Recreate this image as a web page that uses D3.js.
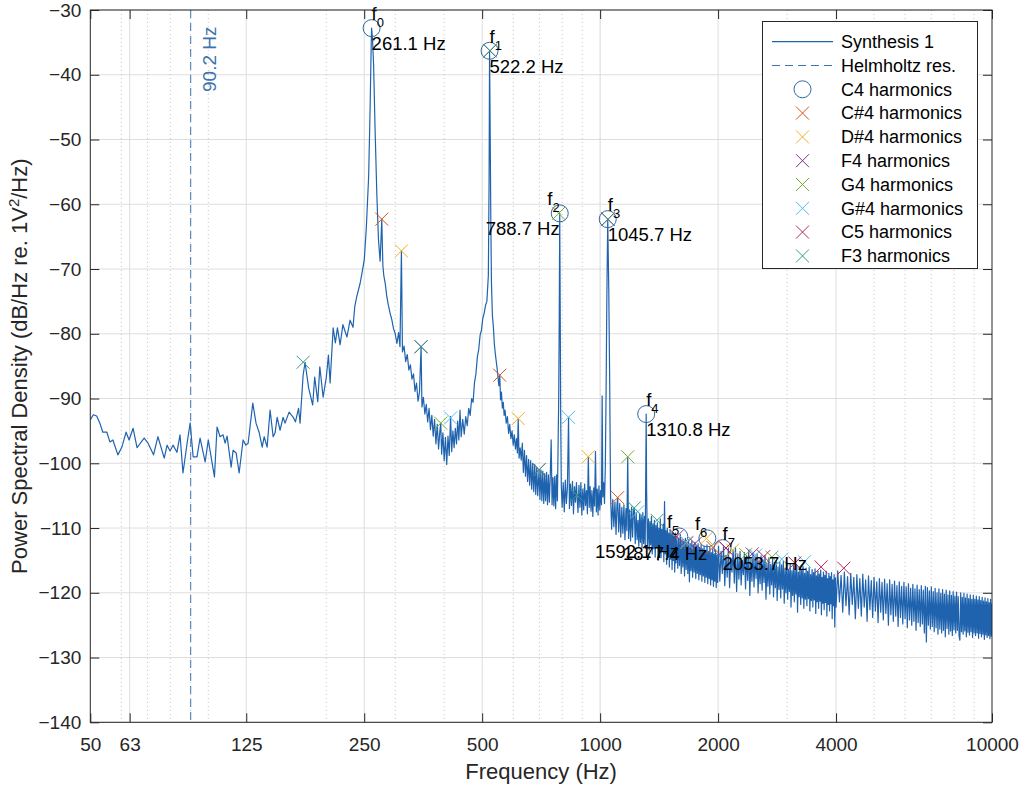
<!DOCTYPE html>
<html>
<head>
<meta charset="utf-8">
<script src="https://cdn.jsdelivr.net/npm/d3@7"></script>
<style>
  body { margin: 0; background: #fff; }
  text { font-family: "Liberation Sans", Arial, Helvetica, sans-serif; fill: #262626; }
</style>
</head>
<body>
<svg id="chart" width="1024" height="787"></svg>
<script>
// ---- data ----
// measured PSD, [frequency Hz, dB/Hz]
const spectrum = [
  [50,-93.3],[50.9,-92.5],[51.9,-92.7],[52.9,-93.8],[53.8,-95.2],[55.1,-95.2],[56.1,-96.7],[57.1,-96.4],[58.8,-98.7],[60.2,-97.5],
  [61.7,-95.2],[62.8,-96.4],[64.3,-94.6],[65.8,-97.6],[68.6,-96.1],[70.2,-96.9],[72.5,-98.7],[74.4,-95.9],[77.2,-99.2],[78.5,-97.2],
  [79.9,-98.1],[81.3,-97.2],[83.2,-98.3],[84.7,-95.6],[86.2,-101.5],[88.3,-96.9],[89.9,-93.8],[91.5,-99.0],[93.6,-99.0],[95.3,-96.1],
  [98.2,-99.8],[100,-96.4],[103.7,-102.1],[105.3,-94.4],[107.2,-95.9],[109.1,-95.6],[110.4,-96.9],[111.7,-95.8],[114.4,-100.6],[115.7,-98.0],
  [117.8,-98.4],[119.9,-101.5],[122.7,-96.4],[124.7,-97.2],[126.4,-96.9],[129.9,-90.7],[132.4,-93.8],[134.8,-95.2],[137.3,-97.5],[138.9,-95.9],
  [141.3,-97.5],[143.8,-91.8],[146.4,-95.9],[148.1,-95.3],[149.9,-92.9],[152.5,-94.9],[155.2,-92.9],[157,-93.8],[160.8,-92.1],[164.8,-92.9],
  [166.9,-93.6],[170,-91.5],[171.5,-93.8],[174.6,-86.4],[176.6,-84.4],[180.4,-88.4],[184.7,-91.0],[186.9,-86.7],[190.3,-90.5],[192.6,-85.1],
  [196.4,-89.8],[200.1,-86.7],[202.6,-83.3],[204.6,-87.6],[208.3,-79.1],[211,-81.4],[213.6,-79.1],[217,-81.7],[220.6,-78.6],[225.9,-80.5],
  [230.1,-77.9],[234.1,-79.0],[236.5,-75.8],[239.2,-74.3],[244.1,-72.2],[246.6,-70.7],[250.1,-68.6],[253.2,-63.5],[256.6,-55.7],[258.8,-45.4],
  [260.4,-36.0],[261.1,-32.8],[262.5,-34.5],[264.2,-38.5],[266.4,-48.0],[269.2,-58.3],[271.9,-65.5],[274.5,-68.8],[277.2,-62.3],[279,-69.5],
  [280.5,-71.0],[283,-72.3],[285.4,-74.2],[288,-75.5],[291,-76.8],[294,-77.8],[297,-79.2],[300,-80.0],[303,-81.5],[306,-79.8],
  [308.5,-82.0],[311.1,-67.2],[313,-82.8],[316,-81.9],[319,-84.3],[322,-83.2],[325,-85.6],[328,-84.8],[331,-87.0],[334,-86.2],
  [337,-88.9],[340,-87.6],[343,-90.4],[346,-89.0],[349.2,-82.0],[351,-91.3],[354,-89.8],[357,-92.4],[360,-90.9],[363,-93.6],
  [366,-91.5],[369,-94.8],[372,-92.6],[375,-95.8],[378,-93.2],[381,-97.0],[384,-94.0],[387,-97.8],[390,-95.0],[392,-93.8],
  [394,-98.6],[397,-95.3],[400,-99.6],[403,-96.0],[406,-100.2],[409,-95.8],[412,-98.8],[415.3,-92.8],[418,-98.2],[421,-95.0],
  [424,-97.6],[427,-94.6],[430,-97.0],[433,-93.5],[436,-96.4],[439,-91.8],[442,-95.9],[446,-93.2],[450,-95.5],[454,-92.8],
  [458,-94.2],[462,-91.5],[466,-92.6],[470,-90.0],[474,-90.6],[478,-87.5],[482,-86.2],[486,-83.6],[490,-82.4],[494,-80.2],
  [498,-79.4],[502,-77.6],[506,-76.8],[510,-75.6],[514,-75.0],[518.5,-71.0],[520.8,-56.0],[522.2,-36.3],[524,-48.0],[526,-62.0],
  [528,-72.0],[531,-77.2],[534,-78.9],[537,-81.5],[540,-83.0],[543,-84.2],[546,-85.4],[549,-86.8],[551.5,-88.0],[554.4,-86.4],
  [557,-90.2],[560,-89.0],[563,-91.5],[566,-90.6],[569,-92.6],[572,-91.8],[576,-93.8],[580,-92.8],[584,-95.4],[588,-94.0],
  [592,-96.2],[596,-95.0],[600,-97.2],[604,-95.6],[608,-97.8],[612,-96.2],[615,-98.4],[618,-93.1],[621,-99.2],[625,-97.6],
  [629,-99.5],[633,-96.9],[637,-101.4],[641,-98.0],[645,-102.0],[649,-98.8],[653,-102.8],[657,-99.4],[661,-103.4],[665,-99.6],
  [669,-104.0],[673,-100.0],[677,-104.4],[681,-100.2],[685,-104.8],[689,-100.6],[693,-105.0],[698.5,-101.0],[702,-105.6],[706,-101.0],
  [710,-105.8],[714,-101.2],[718,-106.2],[722,-101.6],[726,-105.8],[730,-101.4],[734,-106.4],[738,-101.8],[742,-106.0],[746,-102.0],
  [750,-96.4],[754,-106.4],[758,-102.2],[762,-106.6],[766,-102.0],[770,-107.0],[774,-101.8],[778,-105.8],[781,-97.4],[784,-90.0],
  [786.5,-77.0],[788.7,-61.4],[791,-77.0],[793,-92.0],[796,-103.5],[800,-106.8],[805,-103.0],[810,-107.5],[815,-102.6],[820,-106.2],
  [825,-103.8],[830.6,-92.9],[835,-107.0],[840,-103.2],[845,-106.5],[850,-102.8],[855,-107.8],[860,-103.6],[865,-106.0],[870,-103.0],
  [873,-104.9],[878,-107.6],[883,-103.4],[888,-106.8],[893,-103.0],[898,-108.0],[903,-104.0],[908,-107.2],[913,-103.2],[918,-106.5],
  [923,-104.2],[928,-107.8],[933,-99.0],[938,-106.8],[943,-103.6],[948,-107.4],[953,-104.2],[958,-108.2],[963,-103.8],[968,-106.6],
  [973,-98.2],[978,-107.5],[983,-104.0],[988,-108.0],[993,-103.5],[998,-107.2],[1003,-104.2],[1008,-106.4],[1012,-89.6],[1016,-105.2],
  [1021,-103.0],[1026,-106.2],[1031,-100.5],[1036,-88.0],[1040,-75.0],[1045.7,-62.3],[1052,-73.0],[1058,-88.0],[1063,-104.8],[1070,-110.2],
  [1077,-105.6],[1084,-109.8],[1091,-106.0],[1098,-111.0],[1104,-106.4],[1108.7,-105.3],[1115,-110.6],[1122,-106.2],[1129,-111.4],[1136,-106.8],
  [1143,-110.8],[1150,-106.4],[1157,-111.8],[1164,-107.0],[1170,-110.4],[1176,-99.0],[1182,-111.6],[1189,-107.2],[1196,-112.0],[1203,-106.8],
  [1210,-111.4],[1216,-107.4],[1222,-106.9],[1229,-112.4],[1236,-107.6],[1243,-111.8],[1249,-108.8],[1255,-112.8],[1261,-107.8],[1267,-112.2],
  [1273,-108.0],[1279,-113.0],[1285,-107.6],[1291,-112.4],[1297,-108.2],[1303,-112.8],[1307,-103.0],[1310.8,-92.4],[1314,-104.0],[1320,-112.8],
  [1328,-108.6],[1334,-113.4],[1340,-109.0],[1346,-112.6],[1352,-108.2],[1358,-114.0],[1364,-109.4],[1370,-113.2],[1376,-108.8],[1382,-114.5],
  [1388,-109.6],[1394,-113.0],[1400,-109.2],[1406,-115.0],[1412,-110.0],[1418,-113.8],[1424,-108.6],[1430,-114.6],[1436,-110.2],[1442,-113.6],
  [1448,-109.4],[1454,-115.2],[1460,-105.9],[1466,-114.0],[1472,-110.4],[1478,-115.6],[1484,-110.0],[1490,-114.2],[1496,-110.8],[1502,-116.0],
  [1508,-110.2],[1514,-114.8],[1520,-111.0],[1526,-116.4],[1532,-110.6],[1538,-115.0],[1544,-111.2],[1550,-116.8],[1556,-110.8],[1562,-115.4],
  [1570,-111.3],[1578,-116.2],[1586,-111.6],[1594,-115.8],[1602,-111.0],[1610,-117.0],[1618,-111.8],[1626,-116.0],[1634,-112.0],[1642,-117.4],
  [1650,-111.6],[1658,-116.4],[1666,-112.2],[1674,-117.0],[1682,-111.8],[1690,-118.3],[1698,-112.4],[1706,-116.6],[1714,-112.0],[1722,-117.6],
  [1730,-112.6],[1738,-116.8],[1746,-112.2],[1754,-117.8],[1762,-112.8],[1770,-117.0],[1778,-112.4],[1786,-118.0],[1794,-113.0],[1802,-117.2],
  [1810,-112.6],[1818,-118.2],[1826,-113.2],[1834,-117.4],[1842,-112.8],[1850,-118.4],[1858,-113.4],[1866,-117.6],[1874,-112.6],[1882,-118.6],
  [1890,-113.6],[1898,-117.8],[1906,-113.0],[1914,-118.8],[1922,-113.8],[1930,-118.0],[1938,-113.2],[1946,-119.0],[1954,-114.0],[1962,-118.2],
  [1970,-113.4],[1978,-119.2],[1986,-114.2],[1994,-118.4],
  [2005,-112.8],[2020,-118.2],[2035,-113.6],[2050,-117.0],[2065,-112.9],[2080,-118.9],[2095,-114.2],[2110,-117.6],[2125,-113.1],[2140,-119.2],
  [2155,-114.6],[2170,-116.8],[2185,-113.4],[2200,-118.5],[2215,-113.0],[2230,-119.8],[2245,-114.0],[2260,-117.9],[2275,-113.6],[2290,-118.8],
  [2305,-115.0],[2320,-117.2],[2335,-113.8],[2350,-119.4],[2365,-114.2],[2380,-118.1],[2395,-113.5],[2410,-120.4],[2425,-114.8],[2440,-118.2],
  [2455,-113.9],[2470,-119.1],[2485,-114.5],[2500,-117.8],[2515,-114.0],[2530,-120.0],[2545,-115.2],[2560,-118.6],[2575,-114.3],[2590,-119.6],
  [2605,-114.9],[2620,-118.4],[2635,-114.2],[2650,-121.0],[2665,-115.4],[2680,-119.0],[2695,-114.6],[2710,-120.2],[2725,-115.6],[2740,-118.8],
  [2755,-114.8],[2770,-120.6],[2785,-115.3],[2800,-119.2],[2815,-115.0],[2830,-121.2],[2845,-116.0],[2860,-119.5],[2875,-115.2],[2890,-120.8],
  [2905,-115.7],[2920,-119.4],[2935,-115.1],[2950,-121.6],[2965,-116.2],[2980,-120.0],[2995,-115.4],[3010,-121.0],[3025,-116.4],[3040,-119.8],
  [3055,-115.6],[3070,-122.2],[3085,-116.6],[3100,-120.4],[3115,-115.8],[3130,-121.4],[3145,-116.3],[3160,-120.2],[3175,-115.7],[3190,-123.0],
  [3205,-116.8],[3220,-120.6],[3235,-116.0],[3250,-121.8],[3265,-116.5],[3280,-120.8],[3295,-115.9],[3310,-122.4],[3325,-117.0],[3340,-121.0],
  [3355,-116.2],[3370,-122.0],[3385,-116.7],[3400,-120.9],[3415,-116.1],[3430,-122.8],[3445,-117.2],[3460,-121.2],[3475,-116.4],[3490,-122.2],
  [3505,-116.9],[3520,-121.1],[3535,-116.3],[3550,-123.2],[3565,-117.4],[3580,-121.4],[3595,-116.6],[3610,-122.4],[3625,-117.1],[3640,-121.3],
  [3655,-116.5],[3670,-123.4],[3685,-117.6],[3700,-121.6],[3715,-116.8],[3730,-122.6],[3745,-117.3],[3760,-121.5],[3775,-116.7],[3790,-123.6],
  [3805,-117.8],[3820,-121.8],[3835,-117.0],[3850,-122.8],[3865,-117.5],[3880,-121.7],[3895,-116.9],[3910,-124.0],[3925,-118.0],[3940,-122.0],
  [3955,-117.2],[3970,-125.3],[3985,-117.7],
  [4000,-122.2],[4040,-116.6],[4080,-121.4],[4120,-117.3],[4160,-123.0],[4200,-116.8],[4240,-122.0],[4280,-117.5],[4320,-123.4],[4360,-117.0],
  [4400,-121.8],[4440,-117.6],[4480,-124.0],[4520,-117.2],[4560,-122.4],[4600,-117.8],[4640,-123.6],[4680,-117.1],[4720,-122.2],[4760,-118.0],
  [4800,-124.4],[4840,-117.4],[4880,-122.6],[4920,-118.1],[4960,-123.8],[5000,-117.6],[5040,-122.8],[5080,-118.3],[5120,-124.6],[5160,-117.8],
  [5200,-123.0],[5240,-118.4],[5280,-124.2],[5320,-117.9],[5360,-123.2],[5400,-118.6],[5440,-125.0],[5480,-118.0],[5520,-123.4],[5560,-118.7],
  [5600,-124.4],[5640,-118.2],[5680,-123.6],[5720,-118.9],[5760,-125.2],[5800,-118.3],[5840,-123.8],[5880,-119.0],[5920,-124.8],[5960,-118.4],
  [6000,-124.0],[6040,-119.1],[6080,-125.4],[6120,-118.6],[6160,-124.2],[6200,-119.3],[6240,-125.0],[6280,-118.7],[6320,-124.4],[6360,-119.4],
  [6400,-125.8],[6440,-118.8],[6480,-124.6],[6520,-119.5],[6560,-125.2],[6600,-118.9],[6640,-124.8],[6680,-119.6],[6720,-126.2],[6760,-119.0],
  [6800,-127.6],[6840,-119.2],[6880,-125.0],[6920,-119.7],[6960,-125.6],[7000,-119.1],[7040,-125.2],[7080,-119.8],[7120,-126.0],[7160,-119.3],
  [7200,-125.4],[7240,-120.0],[7280,-126.4],[7320,-119.4],[7360,-125.6],[7400,-120.1],[7440,-126.2],[7480,-119.5],[7520,-125.8],[7560,-120.2],
  [7600,-126.8],[7640,-119.6],[7680,-125.5],[7720,-120.3],[7760,-126.4],[7800,-119.7],[7840,-125.9],[7880,-120.4],[7920,-126.6],[7960,-119.8],
  [8000,-125.7],[8040,-120.5],[8080,-126.2],[8120,-119.9],[8160,-125.8],[8200,-120.6],[8240,-126.6],[8280,-127.3],[8320,-120.0],[8360,-126.0],
  [8400,-120.7],[8440,-126.4],[8480,-120.1],[8520,-125.9],[8560,-120.8],[8600,-126.8],[8640,-120.2],[8680,-126.1],[8720,-120.9],[8760,-126.5],
  [8800,-120.3],[8840,-126.0],[8880,-121.0],[8920,-126.9],[8960,-120.4],[9000,-126.2],[9040,-121.0],[9080,-126.6],[9120,-120.5],[9160,-126.2],
  [9200,-121.1],[9240,-127.0],[9280,-120.6],[9320,-126.3],[9360,-121.2],[9400,-126.8],[9440,-120.7],[9480,-126.4],[9520,-121.3],[9560,-127.2],
  [9600,-120.8],[9640,-126.5],[9680,-121.4],[9720,-126.9],[9760,-120.9],[9800,-126.6],[9840,-121.5],[9880,-127.1],[9920,-121.0],[9960,-126.7],
  [10000,-121.6]
];

const helmholtzFreq = 90.2;

// C4 partials with their labels
const c4Harmonics = [[261.1,-32.8],[522.2,-36.3],[788.7,-61.4],[1045.7,-62.3],[1310.8,-92.4],[1592.1,-111.3],[1877.4,-111.6],[2053.7,-113.1]];
const c4Labels = ["261.1 Hz","522.2 Hz","788.7 Hz","1045.7 Hz","1310.8 Hz","1592.1 Hz","1877.4 Hz","2053.7 Hz"];

// other notes' harmonics (where visible)
const cs4Harmonics = [[277.2,-62.3],[554.4,-86.4],[1108.7,-105.3],[1663,-112.3],[1940,-113.0]];
const ds4Harmonics = [[311.1,-67.2],[618,-93.1],[933,-99.0],[1866.6,-111.6],[2177.7,-113.4]];
const f4Harmonics  = [[349.2,-82.0],[698.5,-101.0],[1047.7,-62.3],[1746,-112.4],[2095,-113.1],[2444,-114.0]];
const g4Harmonics  = [[392,-93.8],[784,-61.4],[1176,-99.0],[2352,-114.1],[2744,-114.5]];
const gs4Harmonics = [[415.3,-93.0],[830.6,-92.9],[1246,-107.5],[1661,-112.2],[2492,-114.2],[2907,-114.8],[3322,-115.2]];
const c5Harmonics  = [[523.3,-36.3],[1046.5,-62.3],[1569.8,-111.3],[2093,-113.1],[2616,-114.4],[3139.5,-115.4],[3662.8,-116.0],[4186,-116.2]];
const f3Harmonics  = [[174.6,-84.4],[349.2,-82.0],[523.8,-36.3],[698.5,-101.0],[873,-104.9],[1047.6,-62.3],[1222,-106.9],[1397,-108.8]];

const xTicks = [50, 63, 125, 250, 500, 1000, 2000, 4000, 10000];
const xMinor = [60,70,80,90,100,200,300,400,600,700,800,900,1000,3000,5000,6000,7000,8000,9000];
const yTicks = [-140,-130,-120,-110,-100,-90,-80,-70,-60,-50,-40,-30];
const legendNames = ["Synthesis 1","Helmholtz res.","C4 harmonics","C#4 harmonics","D#4 harmonics","F4 harmonics","G4 harmonics","G#4 harmonics","C5 harmonics","F3 harmonics"];

// ---- layout ----
const svg = d3.select("#chart");
const pLeft = 90.3, pRight = 992, pTop = 10, pBottom = 722.3;
const lineColor = "#1f63af";
const helmColor = "#3d74ad";
const c4Color = "#2f69a3";
const noteColors = ["#d95319", "#edb120", "#7e2f8e", "#77ac30", "#4dbeee", "#b0285a", "#2f9e86"];
const noteSets = [cs4Harmonics, ds4Harmonics, f4Harmonics, g4Harmonics, gs4Harmonics, c5Harmonics, f3Harmonics];
// text placement for C4 labels (left or right of the point)
const labelAnchor = ["start","start","end","start","start","end","end","start"];

const x = d3.scaleLog().domain([50, 10000]).range([pLeft, pRight]);
const y = d3.scaleLinear().domain([-140, -30]).range([pBottom, pTop]);

// grid
const grid = svg.append("g");
grid.selectAll(".ymaj").data(yTicks).enter().append("line")
  .attr("x1", pLeft).attr("x2", pRight)
  .attr("y1", d => y(d)).attr("y2", d => y(d))
  .attr("stroke", "#dedede").attr("stroke-width", 1);
grid.selectAll(".xmin").data(xMinor).enter().append("line")
  .attr("x1", d => x(d)).attr("x2", d => x(d))
  .attr("y1", pTop).attr("y2", pBottom)
  .attr("stroke", "#c4c4c4").attr("stroke-width", 1).attr("stroke-dasharray", "1,3");
grid.selectAll(".xmaj").data(xTicks.slice(1, -1)).enter().append("line")
  .attr("x1", d => x(d)).attr("x2", d => x(d))
  .attr("y1", pTop).attr("y2", pBottom)
  .attr("stroke", "#dedede").attr("stroke-width", 1);

// clip
svg.append("clipPath").attr("id", "plotclip").append("rect")
  .attr("x", pLeft).attr("y", pTop).attr("width", pRight - pLeft).attr("height", pBottom - pTop);

const plot = svg.append("g").attr("clip-path", "url(#plotclip)");

// spectrum line
const line = d3.line().x(d => x(d[0])).y(d => y(d[1]));
plot.append("path").datum(spectrum)
  .attr("d", line)
  .attr("fill", "none")
  .attr("stroke", lineColor)
  .attr("stroke-width", 1.2)
  .attr("stroke-linejoin", "round");

// Helmholtz resonance
plot.append("line")
  .attr("x1", x(helmholtzFreq)).attr("x2", x(helmholtzFreq))
  .attr("y1", pTop).attr("y2", pBottom)
  .attr("stroke", helmColor).attr("stroke-width", 1)
  .attr("stroke-dasharray", "8,5");
svg.append("text")
  .attr("transform", `translate(${x(helmholtzFreq) + 25},${pTop + 82}) rotate(-90)`)
  .style("fill", helmColor)
  .style("font-size", "19px")
  .text(helmholtzFreq.toFixed(1) + " Hz");

// markers
const xPath = s => `M${-s},${-s}L${s},${s}M${-s},${s}L${s},${-s}`;

svg.append("g").selectAll("circle").data(c4Harmonics).enter().append("circle")
  .attr("cx", d => x(d[0])).attr("cy", d => y(d[1])).attr("r", 8.5)
  .attr("fill", "none").attr("stroke", c4Color).attr("stroke-width", 1);

noteSets.forEach((pts, i) => {
  svg.append("g").selectAll("path").data(pts).enter().append("path")
    .attr("transform", d => `translate(${x(d[0])},${y(d[1])})`)
    .attr("d", xPath(6.5))
    .attr("fill", "none").attr("stroke", noteColors[i]).attr("stroke-width", 1);
});

// C4 labels
const lab = svg.append("g").style("font-size", "18.5px");
c4Harmonics.forEach((d, i) => {
  const px = x(d[0]), py = y(d[1]);
  const t1 = lab.append("text").attr("x", px).attr("y", py - 8).attr("text-anchor", labelAnchor[i]).style("fill", "#000");
  t1.append("tspan").text("f");
  t1.append("tspan").attr("dy", 7).style("font-size", "13px").text(i);
  lab.append("text").attr("x", px).attr("y", py + 22).attr("text-anchor", labelAnchor[i]).style("fill", "#000").text(c4Labels[i]);
});

// axes
const axisColor = "#262626";
const gx = svg.append("g").attr("transform", `translate(0,${pBottom})`)
  .call(d3.axisBottom(x).tickValues(xTicks).tickFormat(d3.format("d")).tickSizeInner(-9).tickSizeOuter(0).tickPadding(15));
const gy = svg.append("g").attr("transform", `translate(${pLeft},0)`)
  .call(d3.axisLeft(y).tickValues(yTicks).tickFormat(d3.format("d")).tickSizeInner(-9).tickSizeOuter(0).tickPadding(9));
const gxt = svg.append("g").attr("transform", `translate(0,${pTop})`)
  .call(d3.axisTop(x).tickValues(xTicks).tickFormat("").tickSizeInner(-9).tickSizeOuter(0));
const gyr = svg.append("g").attr("transform", `translate(${pRight},0)`)
  .call(d3.axisRight(y).tickValues(yTicks).tickFormat("").tickSizeInner(-9).tickSizeOuter(0));
[gx, gy, gxt, gyr].forEach(g => {
  g.select(".domain").remove();
  g.selectAll("line").attr("stroke", axisColor);
  g.selectAll("text").style("font-size", "19px").style("font-family", "Liberation Sans, Arial, sans-serif").attr("fill", axisColor);
});
svg.append("rect").attr("x", pLeft).attr("y", pTop).attr("width", pRight - pLeft).attr("height", pBottom - pTop)
  .attr("fill", "none").attr("stroke", axisColor).attr("stroke-width", 1);

// axis labels
svg.append("text").attr("x", (pLeft + pRight) / 2).attr("y", 779).attr("text-anchor", "middle")
  .style("font-size", "22px").text("Frequency (Hz)");
const yl = svg.append("text").attr("transform", `translate(27,${(pTop + pBottom) / 2}) rotate(-90)`)
  .attr("text-anchor", "middle").style("font-size", "22px");
yl.append("tspan").text("Power Spectral Density (dB/Hz re. 1V");
yl.append("tspan").attr("dy", -8).style("font-size", "15px").text("2");
yl.append("tspan").attr("dy", 8).text("/Hz)");

// legend
const lg = svg.append("g");
lg.append("rect").attr("x", 762.5).attr("y", 21.5).attr("width", 215).attr("height", 247)
  .attr("fill", "#fff").attr("stroke", axisColor).attr("stroke-width", 1);
legendNames.forEach((name, i) => {
  const cy = 41.7 + i * 23.8;
  if (i === 0) {
    lg.append("line").attr("x1", 772).attr("x2", 833).attr("y1", cy).attr("y2", cy).attr("stroke", lineColor).attr("stroke-width", 1.2);
  } else if (i === 1) {
    lg.append("line").attr("x1", 772).attr("x2", 833).attr("y1", cy).attr("y2", cy).attr("stroke", helmColor).attr("stroke-dasharray", "8,5");
  } else if (i === 2) {
    lg.append("circle").attr("cx", 802.5).attr("cy", cy).attr("r", 8.5).attr("fill", "none").attr("stroke", c4Color);
  } else {
    lg.append("path").attr("transform", `translate(802.5,${cy})`).attr("d", xPath(6.5))
      .attr("fill", "none").attr("stroke", noteColors[i - 3]);
  }
  lg.append("text").attr("x", 841).attr("y", cy).attr("dy", "0.35em").style("font-size", "18px").style("fill", "#000").text(name);
});
</script>
</body>
</html>
